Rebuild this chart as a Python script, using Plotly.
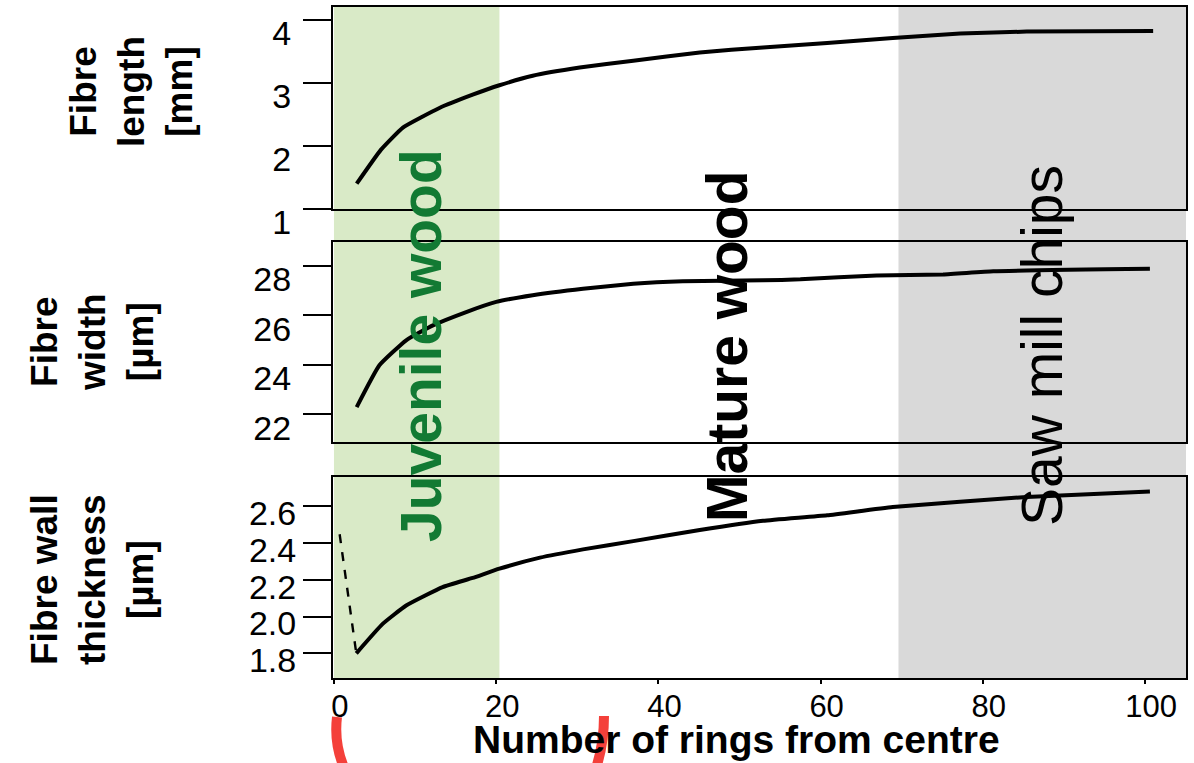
import plotly.graph_objects as go

# ---------------- data ----------------
rings_length = [2.8, 5.8, 8.5, 13.0, 17.1, 20.4, 24.5, 30.3, 36.9, 45.1, 52.9, 60.8, 68.9, 77.2, 85.4, 101.0]
fibre_length = [1.40, 1.94, 2.29, 2.60, 2.81, 2.96, 3.11, 3.24, 3.35, 3.48, 3.56, 3.63, 3.71, 3.78, 3.81, 3.82]

rings_width = [2.8, 5.6, 8.9, 12.2, 16.3, 20.0, 24.5, 30.7, 36.9, 43.0, 52.9, 57.5, 66.9, 75.1, 81.3, 100.6]
fibre_width = [22.28, 23.97, 24.98, 25.58, 26.12, 26.53, 26.80, 27.06, 27.26, 27.36, 27.40, 27.44, 27.60, 27.64, 27.77, 27.87]

rings_wall = [2.75, 6.0, 8.9, 13.4, 17.1, 20.4, 25.4, 30.7, 36.9, 45.1, 52.9, 60.8, 68.9, 85.4, 100.6]
wall_thickness = [1.80, 1.96, 2.06, 2.16, 2.21, 2.26, 2.32, 2.365, 2.41, 2.47, 2.52, 2.55, 2.595, 2.65, 2.68]

rings_wall_dash = [0.7, 2.75]
wall_thickness_dash = [2.447, 1.80]

juvenile_end = 20.4
sawmill_start = 69.6

x_ticks = [0, 20, 40, 60, 80, 100]
length_ticks = [1, 2, 3, 4]
width_ticks = [22, 24, 26, 28]
wall_ticks = [1.8, 2.0, 2.2, 2.4, 2.6]
wall_ticktext = ["1.8", "2.0", "2.2", "2.4", "2.6"]

region_labels = ["Juvenile wood", "Mature wood", "Saw mill chips"]
y_titles = ["Fibre<br>length<br>[mm]", "Fibre<br>width<br>[µm]", "Fibre wall<br>thickness<br>[µm]"]
x_title = "Number of rings from centre"

# ---------------- figure ----------------
FONT = "Liberation Sans, Arial, sans-serif"
X_RANGE = [-0.12, 105.05]
W, H = 1194, 763
ML, MR, MT, MB = 333, 8, 7, 85
PW, PH = W - ML - MR, H - MT - MB


def px_to_paper(px, py):
    return (px - ML) / PW, (H - MB - py) / PH


fig = go.Figure()
line_style = dict(color="black", width=4, shape="spline", smoothing=0.4)
fig.add_trace(go.Scatter(x=rings_length, y=fibre_length, xaxis="x", yaxis="y",
                         mode="lines", line=line_style))
fig.add_trace(go.Scatter(x=rings_width, y=fibre_width, xaxis="x2", yaxis="y2",
                         mode="lines", line=line_style))
fig.add_trace(go.Scatter(x=rings_wall, y=wall_thickness, xaxis="x3", yaxis="y3",
                         mode="lines", line=line_style))
fig.add_trace(go.Scatter(x=rings_wall_dash, y=wall_thickness_dash, xaxis="x3", yaxis="y3",
                         mode="lines", line=dict(color="black", width=2.4, dash="dash")))

box = dict(showline=True, mirror=True, linecolor="black", linewidth=2,
           showgrid=False, zeroline=False, automargin=False)
ytickfont = dict(family=FONT, size=34, color="black")
xtickfont = dict(family=FONT, size=31, color="black")

xcommon = dict(domain=[0, 1], range=X_RANGE, **box)
yticks = dict(ticks="outside", ticklen=28, tickwidth=2, tickcolor="black", tickfont=ytickfont,
              ticklabeloverflow="allow")
fig.update_layout(
    xaxis=dict(anchor="y", showticklabels=False, ticks="", **xcommon),
    xaxis2=dict(anchor="y2", showticklabels=False, ticks="", **xcommon),
    xaxis3=dict(anchor="y3", tickvals=x_ticks, ticks="outside", ticklen=4, tickwidth=2,
                tickcolor="black", tickfont=xtickfont, ticklabelshift=6, ticklabelstandoff=-4,
                ticklabeloverflow="allow", **xcommon),
    yaxis=dict(anchor="x", domain=[0.699, 1.0], range=[1, 4.2], tickvals=length_ticks,
               ticklabelshift=13, ticklabelstandoff=5, **yticks, **box),
    yaxis2=dict(anchor="x2", domain=[0.3517, 0.6498], range=[20.87, 28.95], tickvals=width_ticks,
                ticklabelshift=14, ticklabelstandoff=5, **yticks, **box),
    yaxis3=dict(anchor="x3", domain=[0.0, 0.300], range=[1.666, 2.76], tickvals=wall_ticks,
                ticktext=wall_ticktext, ticklabelshift=7, **yticks, **box),
)

# shaded regions spanning all three panels
fig.add_shape(type="rect", xref="x3", yref="paper", x0=0, x1=juvenile_end, y0=0, y1=1,
              fillcolor="#d9eac7", line_width=0, layer="below")
fig.add_shape(type="rect", xref="x3", yref="paper", x0=sawmill_start, x1=X_RANGE[1], y0=0, y1=1,
              fillcolor="#d9d9d9", line_width=0, layer="below")

# red marks at the bottom
for pts in ([(337, 717), (334, 742), (343, 765)], [(604, 716), (604, 742), (597, 765)]):
    (a, b), (c, d), (e, f) = [px_to_paper(*p) for p in pts]
    fig.add_shape(type="path", xref="paper", yref="paper",
                  path=f"M {a},{b} Q {c},{d} {e},{f}",
                  line=dict(color="#f4403a", width=10))

annotations = []
# region labels
for label, xpos, color, bold in zip(region_labels, [10.73, 48.46, 87.3],
                                    ["#127a33", "black", "black"], [True, True, False]):
    annotations.append(dict(
        text=f"<b>{label}</b>" if bold else label, xref="x3", yref="paper",
        x=xpos, y=px_to_paper(0, 346)[1], textangle=-90, showarrow=False,
        xanchor="center", yanchor="middle",
        font=dict(family=FONT, size=57, color=color)))

# y-axis titles
for title, (cx, cy) in zip(y_titles, [(131, 92), (92, 342), (92, 580)]):
    px_, py_ = px_to_paper(cx, cy)
    annotations.append(dict(
        text=f"<b>{title}</b>", xref="paper", yref="paper", x=px_, y=py_,
        textangle=-90, showarrow=False, xanchor="center", yanchor="middle", align="center",
        font=dict(family=FONT, size=37, color="black")))

# x-axis title
tx, ty = px_to_paper(736, 739)
annotations.append(dict(
    text=f"<b>{x_title}</b>", xref="paper", yref="paper", x=tx, y=ty,
    showarrow=False, xanchor="center", yanchor="middle",
    font=dict(family=FONT, size=39, color="black")))

fig.update_layout(
    width=W, height=H, margin=dict(l=ML, r=MR, t=MT, b=MB, autoexpand=False),
    paper_bgcolor="white", plot_bgcolor="rgba(0,0,0,0)",
    showlegend=False, annotations=annotations,
)

fig.write_html("out.html", config={"displayModeBar": False},
               post_script="document.body.style.margin='0';")
